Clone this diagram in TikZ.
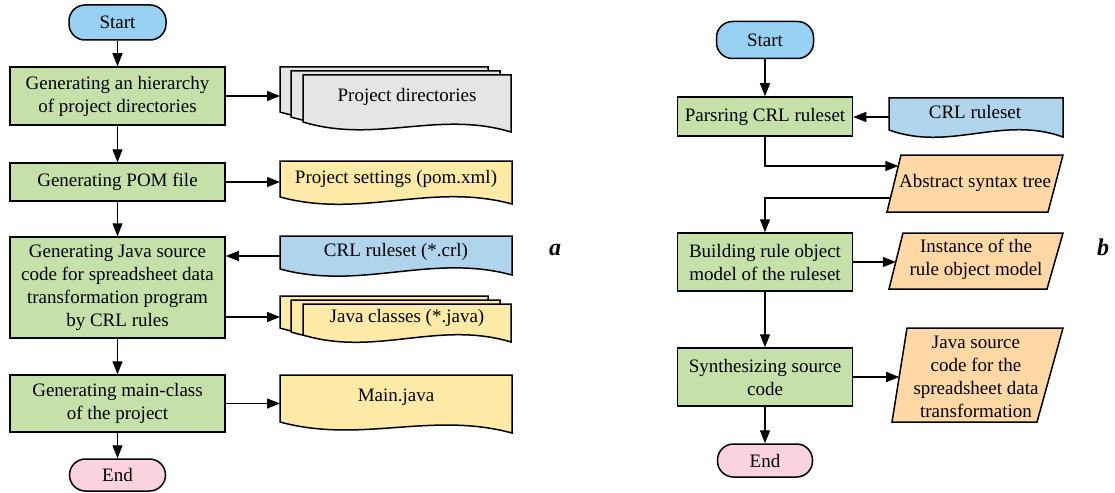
\documentclass[tikz,border=0pt]{standalone}
\usepackage{fontspec}
\setmainfont{Liberation Serif}
\usetikzlibrary{arrows.meta}
\definecolor{procgreen}{RGB}{198,224,170}
\definecolor{startblue}{RGB}{152,209,243}
\definecolor{docblue}{RGB}{176,212,236}
\definecolor{docyellow}{RGB}{255,234,167}
\definecolor{docgray}{RGB}{229,229,229}
\definecolor{dataorange}{RGB}{255,216,166}
\definecolor{endpink}{RGB}{250,211,222}
\tikzset{
  base/.style={draw, line width=1.5pt, align=center, inner sep=0pt, font=\fontsize{19}{23}\selectfont},
  proc/.style={base, fill=procgreen, minimum width=215pt, minimum height=#1},
  term/.style={base, rounded corners=16pt},
  txt/.style={align=center, inner sep=0pt, font=\fontsize{19}{23}\selectfont},
  conn/.style={line width=1.4pt, -{Triangle[length=13pt,width=10pt]}},
  shp/.style={draw, line width=1.5pt, line join=miter},
  panel/.style={inner sep=0pt, font=\fontsize{24}{28}\selectfont\bfseries\itshape, anchor=base},
}
\newcommand\docshape[6]{%
  \draw[shp, fill=#1] (#2,#3) -- (#4,#3) -- (#4,#6)
    .. controls ({#4-0.35*(#4-#2)},{#6-22}) and ({#2+0.35*(#4-#2)},{#5+22}) .. (#2,#5) -- cycle;}
\newcommand\paragram[7]{%
  \draw[shp, fill=#1] (#2,#3) -- (#4,#3) -- (#5,#6) -- (#7,#6) -- cycle;}
\begin{document}
\begin{tikzpicture}[x=1pt,y=-1pt]
\useasboundingbox (0,0) rectangle (1115,492);

% ---------- (a) ----------
\node[term, fill=startblue, minimum width=97pt, minimum height=35pt] (sa) at (117.5,22.5) {Start};
\node[proc=58pt] (a1) at (117.5,96) {Generating an hierarchy\\of project directories};
\node[proc=38pt] (a2) at (117.5,182) {Generating POM file};
\node[proc=101pt] (a3) at (117.5,287.5) {Generating Java source\\code for spreadsheet data\\transformation program\\by CRL rules};
\node[proc=57pt] (a4) at (117.5,403.5) {Generating main-class\\of the project};
\node[term, fill=endpink, minimum width=96pt, minimum height=32pt] (ea) at (117.5,475) {End};

% documents
\docshape{docgray}{280}{67}{488}{112}{121}
\docshape{docgray}{291}{71}{500}{117}{126}
\docshape{docgray}{303}{75}{511}{122}{132}
\node[txt] (pd) at (407,97) {Project directories};
\coordinate (pdL) at (280,96);

\docshape{docyellow}{280}{161}{512}{197}{204}
\node[txt] (pom) at (396,179) {Project settings (pom.xml)};
\coordinate (pomL) at (280,182);

\docshape{docblue}{280}{236}{512}{269}{275}
\node[txt] (crla) at (396,252) {CRL ruleset (*.crl)};
\coordinate (crlaL) at (280,256);

\docshape{docyellow}{280}{296}{488}{328}{334}
\docshape{docyellow}{291}{300}{500}{332}{338}
\docshape{docyellow}{303}{304}{511}{335}{342}
\node[txt] (jc) at (407,318) {Java classes (*.java)};
\coordinate (jcL) at (280,317);

\docshape{docyellow}{280}{375}{512}{422}{433}
\node[txt] (mj) at (396,397) {Main.java};
\coordinate (mjL) at (280,403.5);

% connectors (a)
\draw[conn] (sa) -- (a1);
\draw[conn] (a1) -- (a2);
\draw[conn] (a2) -- (a3);
\draw[conn] (a3) -- (a4);
\draw[conn] (a4) -- (ea);
\draw[conn] (a1.east) -- (pdL);
\draw[conn] (a2.east) -- (pomL);
\draw[conn] (crlaL) -- (a3.east |- crlaL);
\draw[conn] (a3.east |- jcL) -- (jcL);
\draw[conn] (a4.east) -- (mjL);

\node[panel] (la) at (555,255) {a};

% ---------- (b) ----------
\node[term, fill=startblue, minimum width=97pt, minimum height=37pt] (sb) at (765,40) {Start};
\node[proc=39pt, minimum width=175pt] (b1) at (765,116.5) {Parsring CRL ruleset};
\node[proc=58pt, minimum width=175pt] (b2) at (765,262) {Building rule object\\model of the ruleset};
\node[proc=58pt, minimum width=175pt] (b3) at (765,377) {Synthesizing source\\code};
\node[term, fill=endpink, minimum width=95pt, minimum height=33pt] (eb) at (765,460.5) {End};

\docshape{docblue}{889}{98}{1063}{130}{137}
\node[txt] (crlb) at (975,112) {CRL ruleset};
\coordinate (crlbL) at (889,117);

\paragram{dataorange}{901}{155}{1063}{1048}{212}{887}
\node[txt] (ast) at (975,183) {Abstract syntax tree};
\coordinate (astIn) at (898.3,166);
\coordinate (astOut) at (890.4,198);

\paragram{dataorange}{903}{233}{1063}{1047}{289}{889}
\node[txt] (inst) at (976,259) {Instance of the\\rule object model};
\coordinate (instIn) at (895.8,262);

\paragram{dataorange}{907}{328}{1063}{1037}{422}{892}
\node[txt] (jsrc) at (976,377) {Java source\\code for the\\spreadsheet data\\transformation};
\coordinate (jsrcIn) at (899.2,377);

% connectors (b)
\draw[conn] (sb) -- (b1);
\draw[conn] (crlbL) -- (b1.east |- crlbL);
\draw[conn] (b1.south) |- (astIn);
\draw[conn] (astOut) -| (b2.north);
\draw[conn] (b2.east) -- (instIn);
\draw[conn] (b2) -- (b3);
\draw[conn] (b3.east) -- (jsrcIn);
\draw[conn] (b3) -- (eb);

\node[panel] (lb) at (1103,255) {b};
\end{tikzpicture}
\end{document}
